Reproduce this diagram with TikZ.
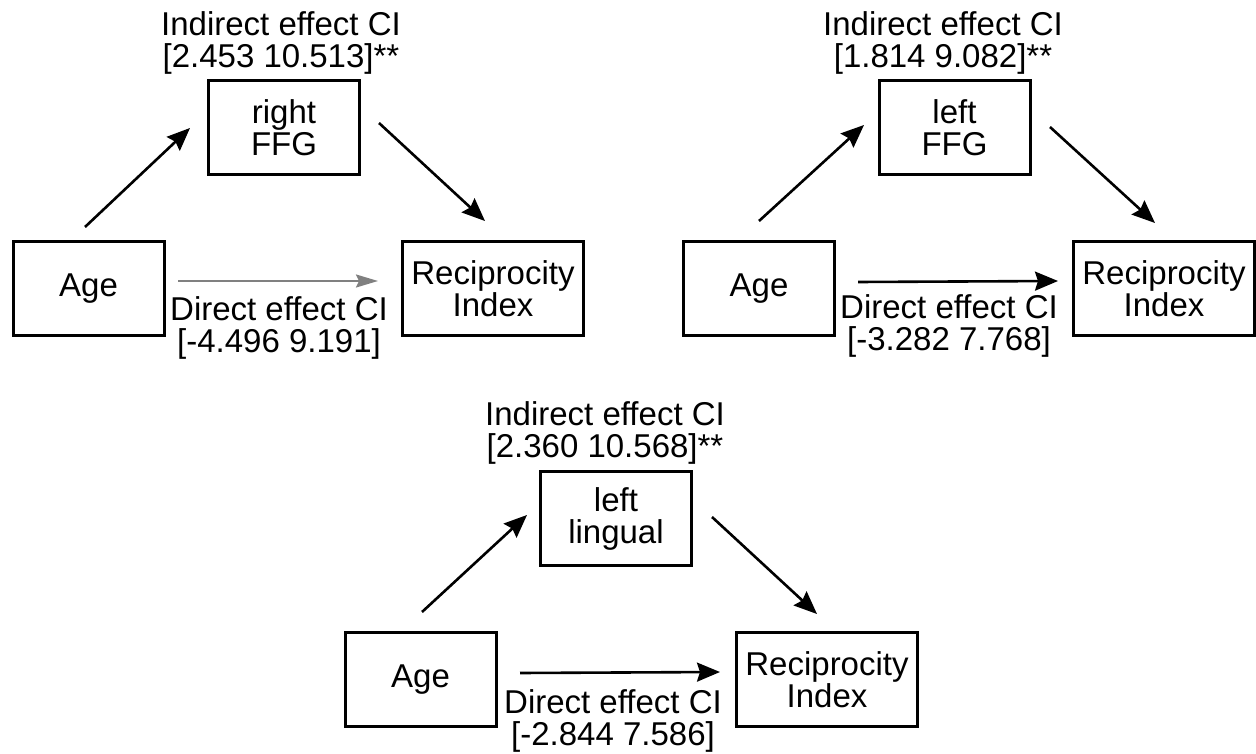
\documentclass[tikz,border=0pt]{standalone}
\usepackage{fontspec}
\setmainfont{Liberation Sans}
\usetikzlibrary{arrows.meta}
\newcommand\labfont{\fontsize{33pt}{32pt}\selectfont}
\begin{document}
\begin{tikzpicture}[x=1pt,y=-1pt,
  box/.style={draw, line width=3pt, inner sep=0pt, align=center, font=\labfont, minimum height=94pt},
  smallbox/.style={box, minimum width=151pt},
  recbox/.style={box, minimum width=181pt},
  lab/.style={inner sep=0pt, align=center, font=\labfont},
  arr/.style={line width=2.6pt, -{Stealth[length=23pt,width=19pt,inset=3pt]}},
  grayarr/.style={line width=2pt, draw=black!50, -{Stealth[length=22pt,width=13pt,inset=3pt,fill=black!50]}}]
\useasboundingbox (0,0) rectangle (1256,754);

% ---------- Panel 1 ----------
\node[lab] (t1) at (281,43) {Indirect effect CI\\{}{[}2.453 10.513]**};
\node[smallbox] (m1) at (284,127.5) {right\\FFG};
\node[smallbox] (age1) at (88.5,288.5) {Age};
\node[recbox] (rec1) at (493,288.5) {Reciprocity\\Index};
\node[lab] (d1) at (279,328) {Direct effect CI\\{}{[}-4.496 9.191]};
\coordinate (a1s) at (85,227);  \coordinate (a1e) at (190,128);
\coordinate (b1s) at (379,123); \coordinate (b1e) at (485,221);
\coordinate (c1s) at (178,281); \coordinate (c1e) at (378,281);
\draw[arr] (a1s) -- (a1e);
\draw[arr] (b1s) -- (b1e);
\draw[grayarr] (c1s) -- (c1e);

% ---------- Panel 2 ----------
\node[lab] (t2) at (943,43) {Indirect effect CI\\{}{[}1.814 9.082]**};
\node[smallbox] (m2) at (954.5,127.5) {left\\FFG};
\node[smallbox] (age2) at (759,288.5) {Age};
\node[recbox] (rec2) at (1164,288.5) {Reciprocity\\Index};
\node[lab] (d2) at (949,326) {Direct effect CI\\{}{[}-3.282 7.768]};
\coordinate (a2s) at (759,221);  \coordinate (a2e) at (864,125);
\coordinate (b2s) at (1050,127); \coordinate (b2e) at (1155,223);
\coordinate (c2s) at (858,282);  \coordinate (c2e) at (1058,281);
\draw[arr] (a2s) -- (a2e);
\draw[arr] (b2s) -- (b2e);
\draw[arr] (c2s) -- (c2e);

% ---------- Panel 3 ----------
\node[lab] (t3) at (605,433) {Indirect effect CI\\{}{[}2.360 10.568]**};
\node[smallbox] (m3) at (616,518.5) {left\\lingual};
\node[smallbox] (age3) at (420.5,679.5) {Age};
\node[recbox] (rec3) at (827,679.5) {Reciprocity\\Index};
\node[lab] (d3) at (613,721) {Direct effect CI\\{}{[}-2.844 7.586]};
\coordinate (a3s) at (422,612); \coordinate (a3e) at (527,515);
\coordinate (b3s) at (712,517); \coordinate (b3e) at (817,614);
\coordinate (c3s) at (520,673); \coordinate (c3e) at (720,672);
\draw[arr] (a3s) -- (a3e);
\draw[arr] (b3s) -- (b3e);
\draw[arr] (c3s) -- (c3e);
\end{tikzpicture}
\end{document}
